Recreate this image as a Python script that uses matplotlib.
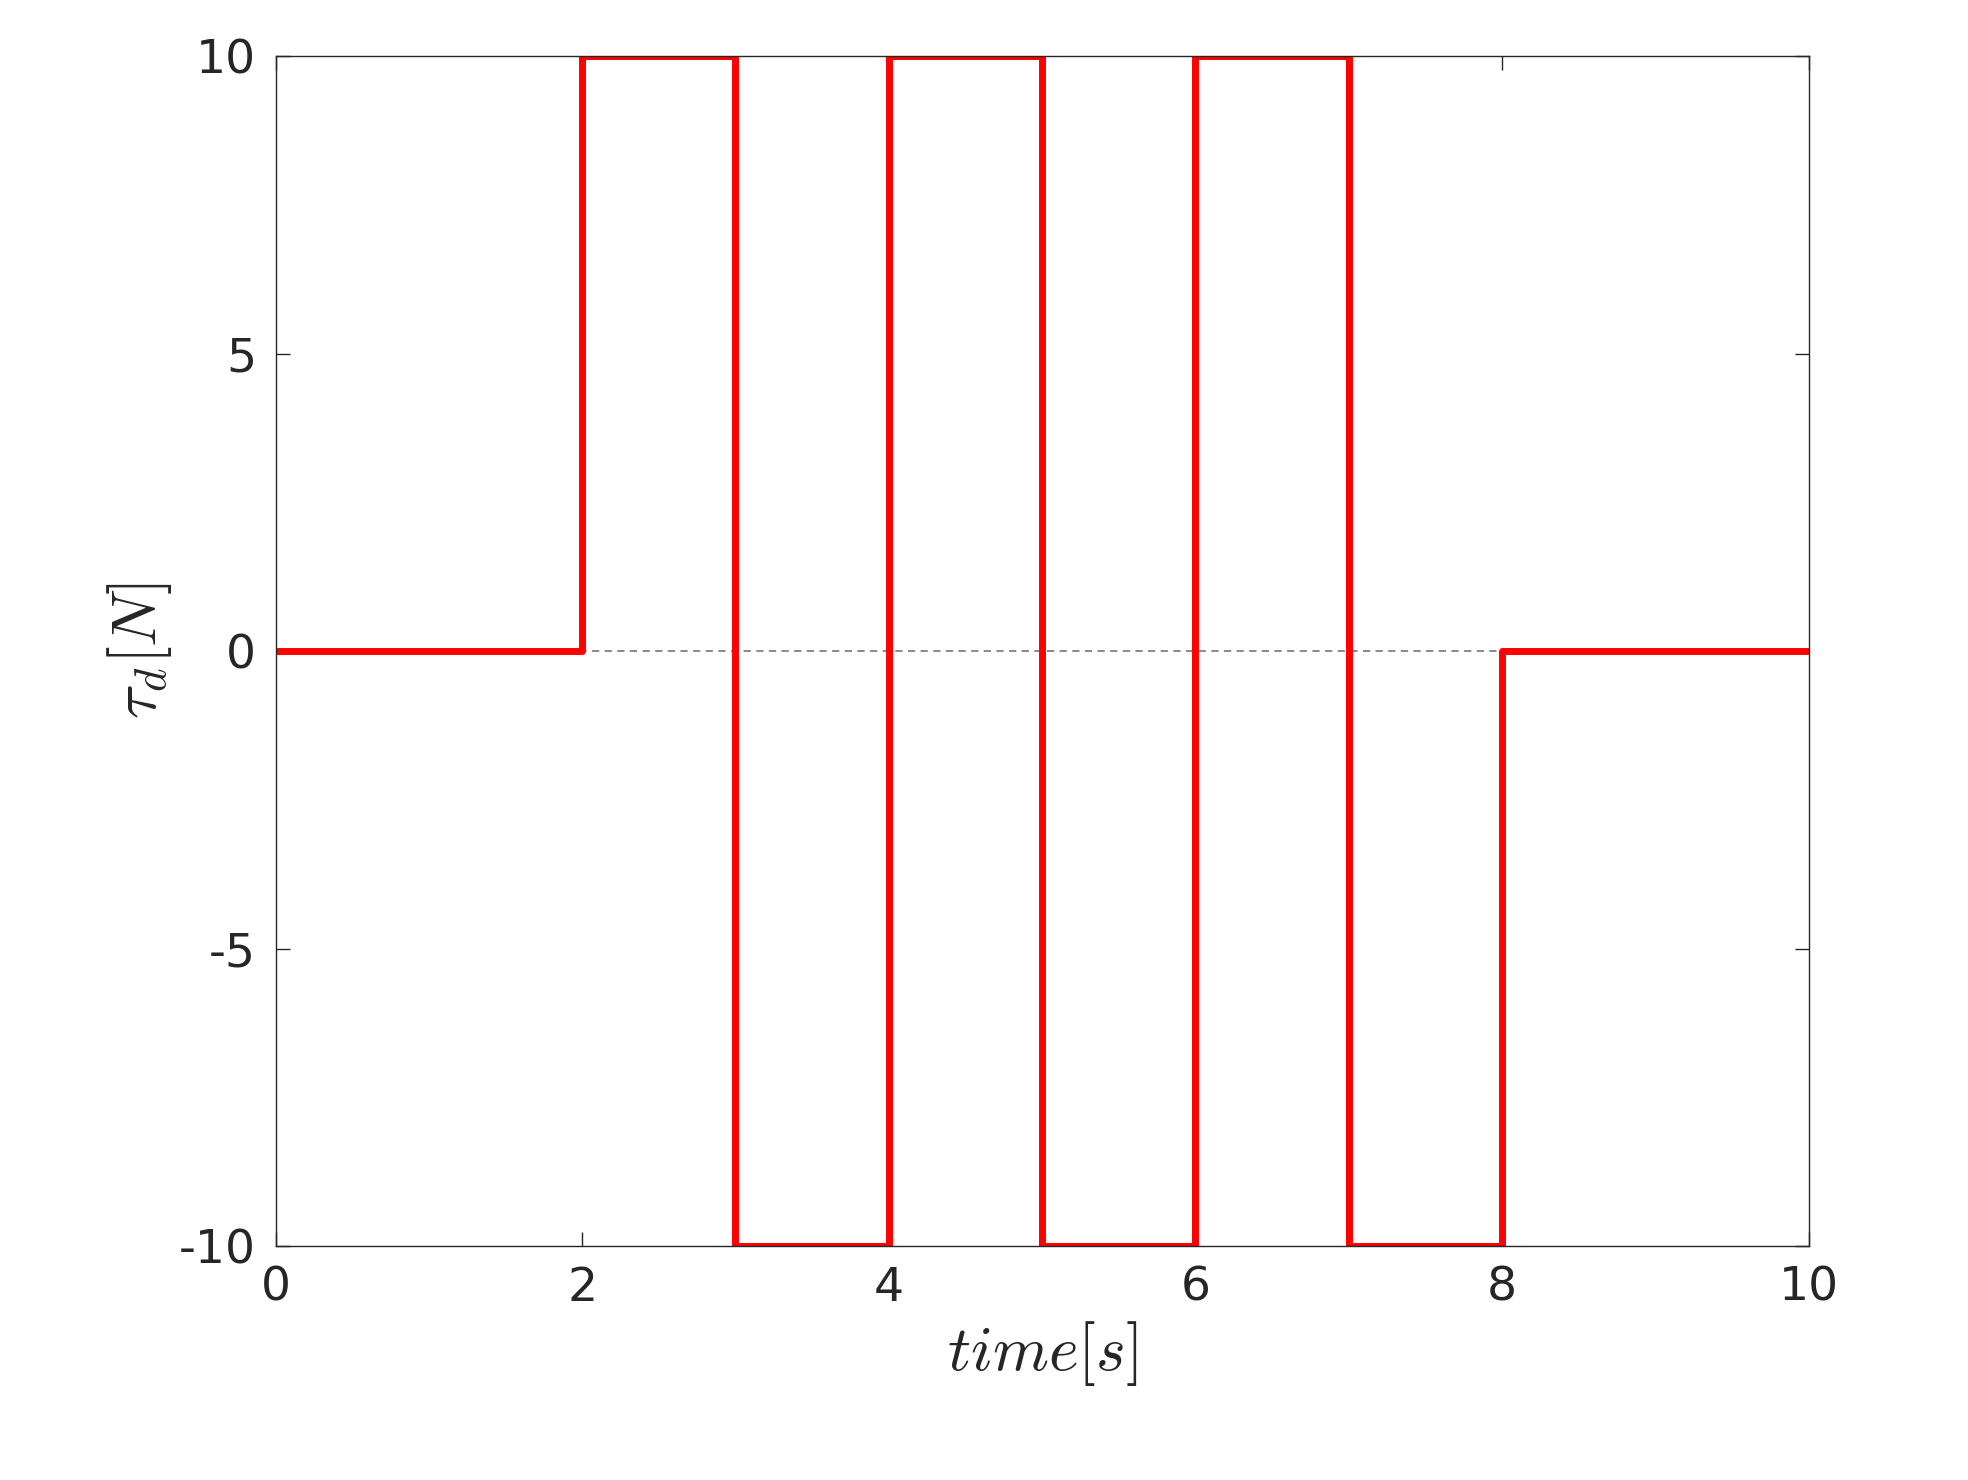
import matplotlib
matplotlib.use("Agg")
import matplotlib.pyplot as plt

t = [0, 2, 2, 3, 3, 4, 4, 5, 5, 6, 6, 7, 7, 8, 8, 10]
tau = [0, 0, 10, 10, -10, -10, 10, 10, -10, -10, 10, 10, -10, -10, 0, 0]
xticks = [0, 2, 4, 6, 8, 10]
yticks = [-10, -5, 0, 5, 10]

plt.rcParams['mathtext.fontset'] = 'cm'
fig = plt.figure(figsize=(19.68, 14.8), dpi=100)
ax = fig.add_axes([0.140, 0.158, 0.779, 0.804])
ax.axhline(0, color='gray', ls='--', lw=1.3, dashes=(4, 3))
ax.plot(t, tau, color='red', lw=5)
ax.set_xlim(0, 10)
ax.set_ylim(-10, 10)
ax.set_xticks(xticks)
ax.set_yticks(yticks)
ax.set_yticklabels([str(v) for v in yticks])
ax.tick_params(direction='in', top=True, right=True, labelsize=34, length=10, width=1, colors='#262626', pad=14)
for s in ax.spines.values():
    s.set_color('#262626'); s.set_linewidth(1)
ax.set_xlabel(r'$time[s]$', fontsize=46, color='#262626', labelpad=6)
ax.set_ylabel(r'$\tau_d[N]$', fontsize=46, color='#262626')
fig.savefig('out.png')
